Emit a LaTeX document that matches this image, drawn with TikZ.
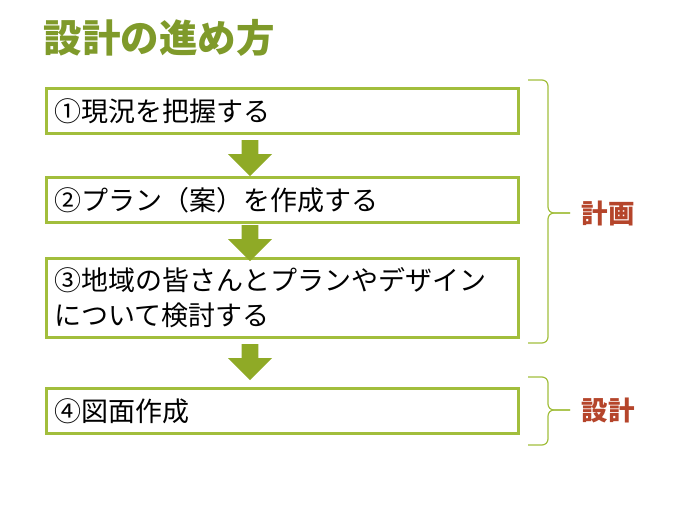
\documentclass[tikz,border=0pt]{standalone}
\usepackage{fontspec}
\setmainfont{Noto Sans CJK JP}
\usetikzlibrary{shapes.arrows,positioning}
\definecolor{boxgreen}{HTML}{A2BE3C}
\definecolor{arrgreen}{HTML}{8FAA26}
\definecolor{titlegreen}{HTML}{7F9A2A}
\definecolor{labelred}{HTML}{B5452B}
\begin{document}
\begin{tikzpicture}
        [ x=1pt, y=-1pt,
          stepbox/.style = {draw=boxgreen,line width=3pt,anchor=north west,minimum width=472pt,
                            align=left,text width=456pt,font=\fontsize{27}{35}\selectfont},
          downarrow/.style = {single arrow,fill=arrgreen,draw=none,shape border rotate=270,
                              minimum height=36pt,minimum width=44pt,single arrow head extend=10pt,
                              inner sep=6pt},
          bracket/.style = {draw=boxgreen,line width=1.2pt,rounded corners=6pt},
          sidelabel/.style = {text=labelred,font=\bfseries\fontsize{26.5}{29}\selectfont,anchor=west}]
        \useasboundingbox (0,0) rectangle (700,521);
        \node[anchor=west,text=titlegreen,font=\bfseries\fontsize{38.5}{42}\selectfont] (title) at (40,38) {設計の進め方};
        \node[stepbox,minimum height=45pt] (genkyo) at (45,87) {①現況を把握する};
        \node[stepbox,minimum height=45pt] (plan) at (45,176) {②プラン（案）を作成する};
        \node[stepbox,minimum height=79pt] (kento) at (45,257) {③地域の皆さんとプランやデザイン\\について検討する};
        \node[stepbox,minimum height=45pt] (zumen) at (45,387) {④図面作成};
        \node[downarrow] (a1) at (250,154) {};
        \node[downarrow] (a2) at (250,239) {};
        \node[downarrow] (a3) at (250,358) {};
        % brackets
        \draw[bracket] (528,80) -- (548,80) -- (548,213) -- (570,213);
        \draw[bracket] (570,213) -- (548,213) -- (548,343) -- (528,343);
        \node[sidelabel] (keikaku) at (578,213) {計画};
        \draw[bracket] (528,377) -- (548,377) -- (548,410) -- (570,410);
        \draw[bracket] (570,410) -- (548,410) -- (548,445) -- (528,445);
        \node[sidelabel] (sekkei) at (578,410) {設計};
\end{tikzpicture}
\end{document}
